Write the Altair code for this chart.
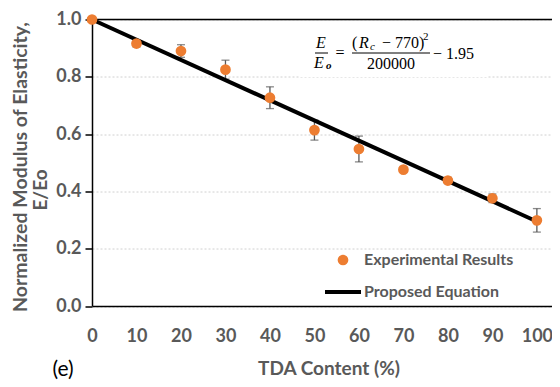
import altair as alt
import pandas as pd

# ---- data ----
tda = [0, 10, 20, 30, 40, 50, 60, 70, 80, 90, 100]
e_ratio = [1.0, 0.916, 0.89, 0.825, 0.727, 0.614, 0.548, 0.476, 0.438, 0.376, 0.299]
e_err = [0.0, 0.012, 0.022, 0.033, 0.038, 0.035, 0.045, 0.008, 0.011, 0.015, 0.041]

line_x = [0, 100]
line_y = [1.0, 0.295]

x_ticks = [0, 10, 20, 30, 40, 50, 60, 70, 80, 90, 100]
y_ticks = [0.0, 0.2, 0.4, 0.6, 0.8, 1.0]

y_title_1 = "Normalized Modulus of Elasticity,"
y_title_2 = "E/Eo"
x_title = "TDA Content (%)"
legend_labels = ["Experimental Results", "Proposed Equation"]
panel_label = "(e)"

# ---- styling ----
PAD_L, PAD_T = 84, 11.5
W, H = 460, 286.5
GREY = "#595959"
ORANGE = "#ED7D31"
SANS = "Lato"
SERIF = "Liberation Serif"

df = pd.DataFrame({"x": tda, "y": e_ratio, "err": e_err})
df["lo"] = df["y"] - df["err"]
df["hi"] = df["y"] + df["err"]
ldf = pd.DataFrame({"x": line_x, "y": line_y})

xs = alt.Scale(domain=[0, 103.4], nice=False, zero=False)
ys = alt.Scale(domain=[0, 1.0], nice=False)

x_axis = alt.Axis(values=x_ticks, title=None, grid=False, ticks=False,
                  domainColor="black", domainWidth=1.5,
                  labelFont=SANS, labelFontSize=18, labelFontWeight="bold",
                  labelColor=GREY, labelPadding=21, labelFlush=False)
y_axis = alt.Axis(values=y_ticks, format=".1f", title=None,
                  domainColor="black", domainWidth=1.5,
                  tickColor="black", tickSize=7, tickWidth=1.5,
                  labelFont=SANS, labelFontSize=18, labelFontWeight="bold",
                  labelColor=GREY, labelPadding=4, labelFlush=False,
                  grid=True, gridColor="#d0d0d0", gridDash=[2, 2], gridWidth=1)

base = alt.Chart(df)

# axes + grid carrier
axes = base.mark_point(opacity=0).encode(
    x=alt.X("x:Q", scale=xs, axis=x_axis),
    y=alt.Y("y:Q", scale=ys, axis=y_axis),
)

top_rule = alt.Chart(pd.DataFrame({"v": [1.0]})).mark_rule(
    color="black", strokeWidth=1.5
).encode(y=alt.Y("v:Q", scale=ys), x=alt.value(0), x2=alt.value(W))

# plot origin in page pixels
ox, oy = 8 + PAD_L, 8 + PAD_T

# white box behind the equation
eq_box = alt.Chart(pd.DataFrame({"a": [0]})).mark_rect(color="white").encode(
    x=alt.value(300 - ox), x2=alt.value(487 - ox), y=alt.value(28 - oy), y2=alt.value(77 - oy)
)

err_rule = base.mark_rule(color=GREY, strokeWidth=1.3).encode(
    x=alt.X("x:Q", scale=xs), y=alt.Y("lo:Q", scale=ys), y2="hi:Q"
)
cap_hi = base.mark_tick(color=GREY, orient="horizontal", size=8, thickness=1.3).encode(
    x=alt.X("x:Q", scale=xs), y=alt.Y("hi:Q", scale=ys)
)
cap_lo = base.mark_tick(color=GREY, orient="horizontal", size=8, thickness=1.3).encode(
    x=alt.X("x:Q", scale=xs), y=alt.Y("lo:Q", scale=ys)
)

line = alt.Chart(ldf).mark_line(color="black", strokeWidth=4).encode(
    x=alt.X("x:Q", scale=xs), y=alt.Y("y:Q", scale=ys)
)

points = base.mark_circle(color=ORANGE, opacity=1, size=115).encode(
    x=alt.X("x:Q", scale=xs), y=alt.Y("y:Q", scale=ys)
)


def txt(s, x, y, size, font=SANS, weight="normal", color=GREY, align="left",
        baseline="middle", angle=0, style="normal"):
    kw = dict(text=s, font=font, fontSize=size, fontWeight=weight, color=color,
              align=align, baseline=baseline, fontStyle=style)
    if angle:
        kw["angle"] = angle
    return alt.Chart(pd.DataFrame({"a": [0]})).mark_text(**kw).encode(
        x=alt.value(x - ox), y=alt.value(y - oy)
    )


def hbar(x1, x2, y, w=1.0):
    return alt.Chart(pd.DataFrame({"a": [0]})).mark_rule(color="black", strokeWidth=w).encode(
        x=alt.value(x1 - ox), x2=alt.value(x2 - ox), y=alt.value(y - oy)
    )


# all positions below are page pixels
texts = [
    txt(y_title_1, 21, 167, 19.5, weight="bold", align="center", angle=270),
    txt(y_title_2, 41, 190, 19, weight="bold", align="center", angle=270),
    txt(x_title, 329, 369, 19, weight="bold", align="center"),
    txt(panel_label, 63, 370, 21, color="black", align="center"),
    # legend
    txt(legend_labels[0], 364, 260, 16, weight="bold"),
    txt(legend_labels[1], 364, 292, 16, weight="bold"),
]
leg_dot = alt.Chart(pd.DataFrame({"a": [0]})).mark_circle(color=ORANGE, opacity=1, size=115).encode(
    x=alt.value(343 - ox), y=alt.value(260 - oy)
)
leg_line = hbar(325, 361, 292, 4)

# equation  E/Eo = (Rc - 770)^2 / 200000 - 1.95
eq = [
    txt("E", 321, 43, 16, font=SERIF, color="black", align="center", style="italic"),
    hbar(315, 328, 53, 1),
    txt("E", 319, 63, 16, font=SERIF, color="black", align="center", style="italic"),
    txt("o", 326, 66, 11, font=SERIF, color="black", style="italic", weight="bold"),
    txt("=", 340, 53, 16, font=SERIF, color="black", align="center"),
    txt("(", 352, 43, 16, font=SERIF, color="black"),
    txt("R", 359, 43, 16, font=SERIF, color="black", style="italic"),
    txt("c", 370, 47, 11, font=SERIF, color="black", style="italic"),
    txt("\u2212 770)", 382, 43, 16, font=SERIF, color="black"),
    txt("2", 423, 37, 11, font=SERIF, color="black"),
    hbar(352, 430, 53, 1),
    txt("200000", 391, 64, 16, font=SERIF, color="black", align="center"),
    txt("\u2212 1.95", 433, 54, 16, font=SERIF, color="black"),
]

chart = alt.layer(
    axes, top_rule, eq_box, err_rule, cap_hi, cap_lo, line, points,
    leg_dot, leg_line, *texts, *eq
).properties(
    width=W, height=H,
    autosize=alt.AutoSizeParams(type="none"),
    padding={"left": PAD_L, "top": PAD_T, "right": 0, "bottom": 80},
).configure_view(stroke=None).configure(background="white")

chart.save("out.html", embed_options={"renderer": "svg", "actions": False})
